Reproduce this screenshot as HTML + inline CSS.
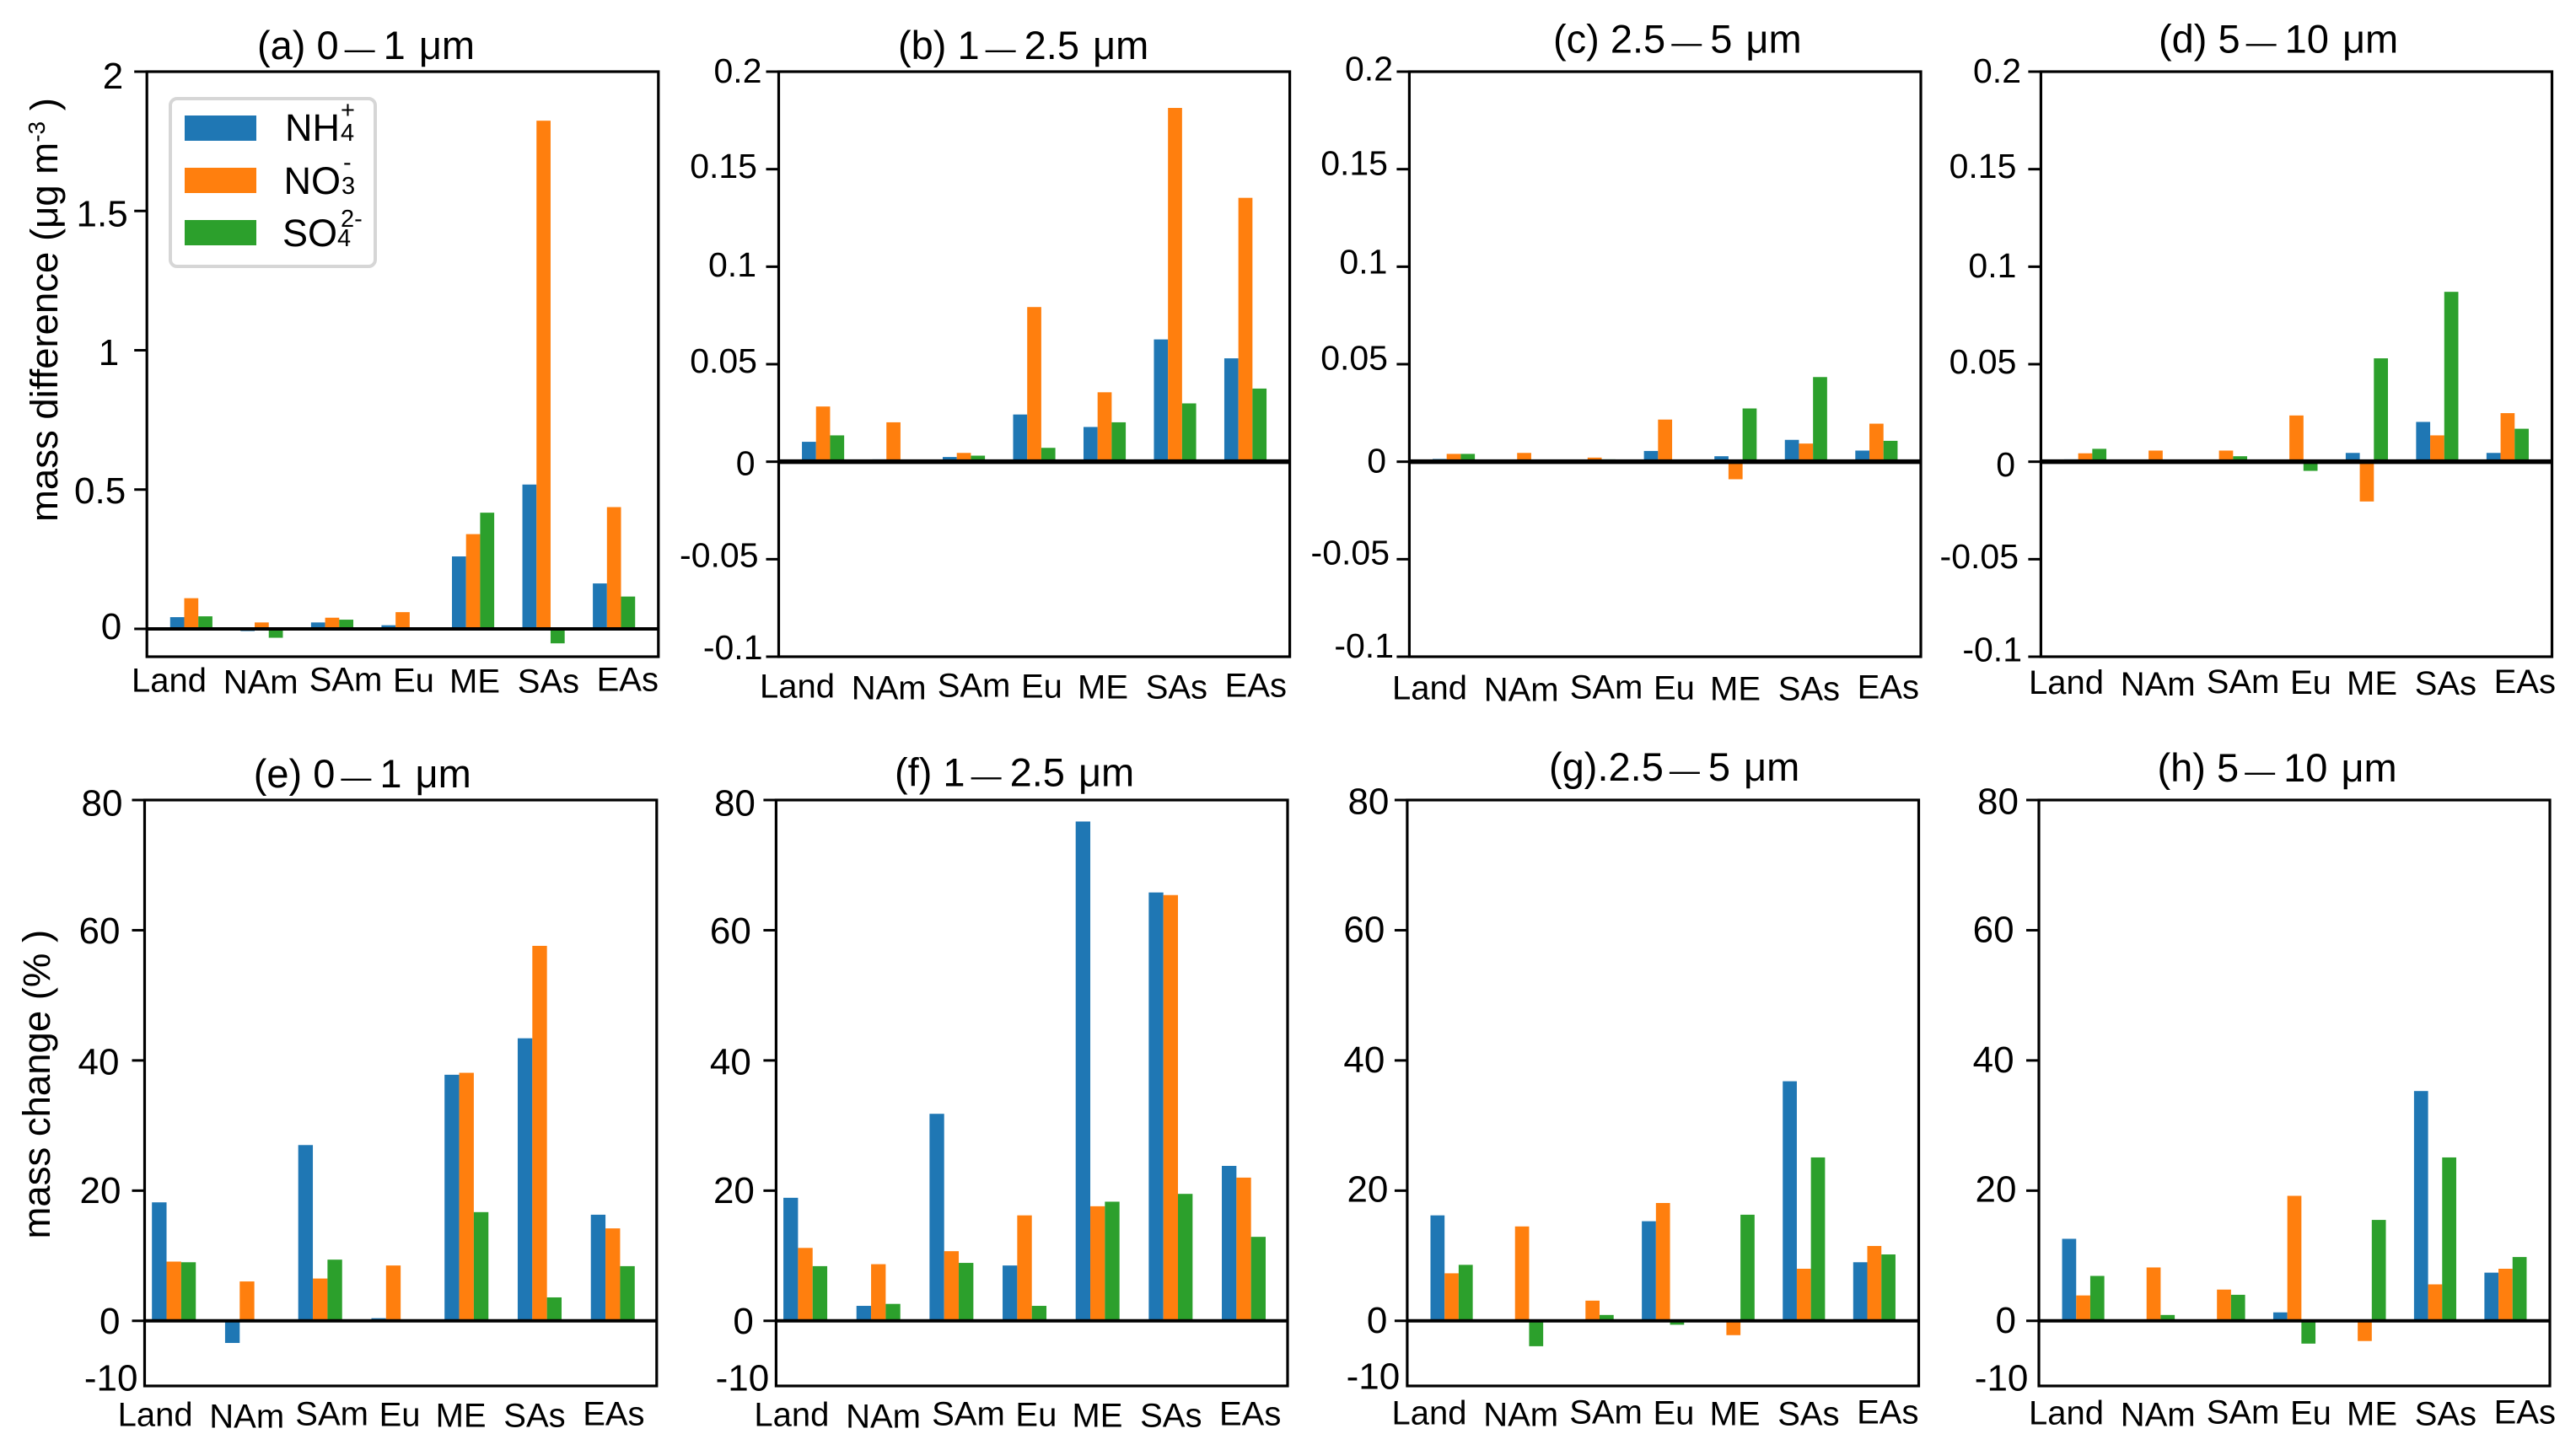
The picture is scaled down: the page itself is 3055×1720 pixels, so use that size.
<!DOCTYPE html>
<html lang="en">
<head>
<meta charset="utf-8">
<title>Aerosol mass difference and mass change by region</title>
<style>
html,body{margin:0;padding:0;background:#fff;}
svg{display:block;font-family:"Liberation Sans",Arial,sans-serif;fill:#000;}
</style>
</head>
<body>
<svg id="figure" xmlns="http://www.w3.org/2000/svg" width="3055" height="1720" viewBox="0 0 3055 1720">
  <rect x="0" y="0" width="3055" height="1720" fill="#ffffff"/>
  <text transform="translate(68,619) rotate(-90)" font-size="45.500">mass difference (μg m<tspan dy="-15" font-size="28">-3</tspan><tspan dy="15"> )</tspan></text>
  <text transform="translate(59,1469.5) rotate(-90)" font-size="45.500">mass change (% )</text>
  <g id="panels"></g>
  <g>
    <rect x="202" y="117" width="243" height="199" rx="8" ry="8" fill="#ffffff" stroke="#d6d6d6" stroke-width="4"/>
    <rect x="219" y="137" width="85" height="30" fill="#1f77b4"/>
    <rect x="219" y="199" width="85" height="30" fill="#ff7f0e"/>
    <rect x="219" y="261" width="85" height="30" fill="#2ca02c"/>
    <text font-size="45"><tspan x="338" y="167">NH</tspan><tspan x="404" y="167" font-size="29">4</tspan><tspan x="404" y="140" font-size="29">+</tspan></text>
    <text font-size="45"><tspan x="336.500" y="230">NO</tspan><tspan x="405" y="230" font-size="29">3</tspan><tspan x="407" y="202" font-size="29">-</tspan></text>
    <text font-size="45"><tspan x="335" y="292">SO</tspan><tspan x="400" y="292" font-size="29">4</tspan><tspan x="404" y="269" font-size="29">2-</tspan></text>
  </g>
</svg>
<script>
const categories = ['Land', 'NAm', 'SAm', 'Eu', 'ME', 'SAs', 'EAs'];
const speciesNames = ['nh4', 'no3', 'so4'];

const massDiffTicksA = ['2', '1.5', '1', '0.5', '0'];
const massDiffTicksFine = ['0.2', '0.15', '0.1', '0.05', '0', '-0.05', '-0.1'];
const massChangeTicks = ['80', '60', '40', '20', '0', '-10'];

const panelANH4 = [0.042, -0.008, 0.023, 0.013, 0.26, 0.518, 0.163];
const panelANO3 = [0.11, 0.023, 0.04, 0.06, 0.34, 1.824, 0.437];
const panelASO4 = [0.045, -0.032, 0.033, 0.005, 0.417, -0.052, 0.116];

const panelBNH4 = [0.0102, 0.0012, 0.0024, 0.0242, 0.0178, 0.0627, 0.053];
const panelBNO3 = [0.0283, 0.0202, 0.0045, 0.0793, 0.0356, 0.1814, 0.1353];
const panelBSO4 = [0.0135, 0, 0.0031, 0.0071, 0.0202, 0.0299, 0.0375];

const panelCNH4 = [0.0014, 0, 0, 0.0055, 0.0028, 0.0112, 0.0057];
const panelCNO3 = [0.004, 0.0045, 0.0021, 0.0216, -0.009, 0.0093, 0.0195];
const panelCSO4 = [0.004, 0, 0.0012, 0, 0.0273, 0.0434, 0.0107];

const panelDNH4 = [0.0012, 0, 0, 0.001, 0.0045, 0.0204, 0.0045];
const panelDNO3 = [0.0043, 0.0057, 0.0057, 0.0237, -0.0204, 0.0135, 0.0249];
const panelDSO4 = [0.0066, 0, 0.0028, -0.0047, 0.053, 0.0871, 0.0169];

const panelENH4 = [18.2, -3.4, 27, 0.4, 37.8, 43.4, 16.3];
const panelENO3 = [9.1, 6.05, 6.5, 8.5, 38.1, 57.6, 14.2];
const panelESO4 = [9, 0, 9.4, 0, 16.7, 3.6, 8.4];

const panelFNH4 = [18.9, 2.3, 31.8, 8.5, 76.7, 65.8, 23.8];
const panelFNO3 = [11.2, 8.7, 10.7, 16.2, 17.6, 65.4, 22];
const panelFSO4 = [8.4, 2.6, 8.9, 2.3, 18.3, 19.5, 12.9];

const panelGNH4 = [16.2, 0, 0, 15.3, 0, 36.8, 9];
const panelGNO3 = [7.3, 14.5, 3.1, 18.1, -2.2, 8, 11.5];
const panelGSO4 = [8.6, -3.9, 0.9, -0.6, 16.3, 25.1, 10.2];

const panelHNH4 = [12.6, 0, 0, 1.3, 0, 35.3, 7.4];
const panelHNO3 = [3.9, 8.2, 4.8, 19.2, -3.1, 5.6, 8];
const panelHSO4 = [6.9, 0.9, 4, -3.5, 15.5, 25.1, 9.8];

const SVG_NS = 'http://www.w3.org/2000/svg';
const COLORS = ['#1f77b4', '#ff7f0e', '#2ca02c'];
const BAR_WIDTH_UNITS = 0.2;
const XLABEL_DX = [0, 108.7, 210.7, 310, 377, 457.7, 551.6];
const XLABEL_DY = [0, 2, -1, 0, 1, 1, -1];

const TOP = {top: 85, bottom: 779};
const BOT = {top: 949, bottom: 1644};

const panels = [
  {id: 'a', head: '(a) 0', tail: '1 μm', tx: 305, ty: 70, left: 174.2, right: 780.8, row: TOP, yMin: -0.1, yMax: 2, xMin: -0.63, xMax: 6.63, tickFont: 44,
   ticks: massDiffTicksA, values: [panelANH4, panelANO3, panelASO4], zero: 4, hideLast: false,
   lx: 156, ly: 820.7, gap: [28, 22.5, 33, 25, 30], dy: [20, 18.5, 17.5, 16.5, 12]},
  {id: 'b', head: '(b) 1', tail: '2.5 μm', tx: 1065, ty: 70, left: 923.5, right: 1529.6, row: TOP, yMin: -0.1, yMax: 0.2, xMin: -0.63, xMax: 6.63, tickFont: 41,
   ticks: massDiffTicksFine, values: [panelBNH4, panelBNO3, panelBSO4], zero: 5.5, hideLast: false,
   lx: 901, ly: 827.3, gap: [20, 25.5, 26.5, 25.5, 28, 24, 19], dy: [13.2, 10.4, 11.6, 9.9, 16, 9.3, 2.8]},
  {id: 'c', head: '(c) 2.5', tail: '5 μm', tx: 1842, ty: 62.7, left: 1671.4, right: 2278, row: TOP, yMin: -0.1, yMax: 0.2, xMin: -0.63, xMax: 6.63, tickFont: 41,
   ticks: massDiffTicksFine, values: [panelCNH4, panelCNO3, panelCSO4], zero: 5.5, hideLast: false,
   lx: 1651, ly: 829.5, gap: [19.4, 25.4, 26, 25.4, 27.4, 23.4, 18.4], dy: [10.5, 7, 8.2, 6.6, 12.6, 6, 1]},
  {id: 'd', head: '(d) 5', tail: '10 μm', tx: 2560, ty: 62.7, left: 2420.4, right: 3026.5, row: TOP, yMin: -0.1, yMax: 0.2, xMin: -0.63, xMax: 6.63, tickFont: 41,
   ticks: massDiffTicksFine, values: [panelDNH4, panelDNO3, panelDSO4], zero: 5.5, hideLast: false,
   lx: 2406, ly: 823, gap: [23.4, 29, 29, 29, 30.4, 26.4, 22.4], dy: [13.2, 10.4, 12.6, 11, 17.5, 10.5, 5.6]},
  {id: 'e', head: '(e) 0', tail: '1 μm', tx: 300.7, ty: 934, left: 171.5, right: 778.8, row: BOT, yMin: -10, yMax: 80, xMin: -0.4, xMax: 6.6, tickFont: 44,
   ticks: massChangeTicks, values: [panelENH4, panelENO3, panelESO4], zero: 4, hideLast: true,
   lx: 139.6, ly: 1691.7, gap: [26, 29, 30, 28, 29, 8], dy: [18.7, 15.8, 16.5, 14.8, 15.4, 5.4]},
  {id: 'f', head: '(f) 1', tail: '2.5 μm', tx: 1061, ty: 932.6, left: 920.4, right: 1527, row: BOT, yMin: -10, yMax: 80, xMin: -0.4, xMax: 6.6, tickFont: 44,
   ticks: massChangeTicks, values: [panelFNH4, panelFNO3, panelFSO4], zero: 4, hideLast: true,
   lx: 894.4, ly: 1691.7, gap: [24.5, 29.6, 29.6, 25.5, 26.5, 8.2], dy: [18.7, 15.8, 16.5, 14.8, 15.4, 5.4]},
  {id: 'g', head: '(g).2.5', tail: '5 μm', tx: 1837, ty: 926, left: 1668.9, right: 2275.5, row: BOT, yMin: -10, yMax: 80, xMin: -0.63, xMax: 6.63, tickFont: 44,
   ticks: massChangeTicks, values: [panelGNH4, panelGNO3, panelGSO4], zero: 4, hideLast: true,
   lx: 1650.5, ly: 1689.5, gap: [21.5, 26.6, 26.6, 22.5, 23.5, 8.7], dy: [16.7, 14, 14, 13, 14, 3.5]},
  {id: 'h', head: '(h) 5', tail: '10 μm', tx: 2558.5, ty: 927, left: 2418, right: 3024, row: BOT, yMin: -10, yMax: 80, xMin: -0.63, xMax: 6.63, tickFont: 44,
   ticks: massChangeTicks, values: [panelHNH4, panelHNO3, panelHSO4], zero: 4, hideLast: true,
   lx: 2406, ly: 1689.5, gap: [24, 29.4, 29.4, 26.5, 27, 12.6], dy: [16.7, 14, 14, 13, 14, 5.4]}
];

function make(tag, attrs, parent) {
  const el = document.createElementNS(SVG_NS, tag);
  Object.keys(attrs).forEach(function (k) { el.setAttribute(k, attrs[k]); });
  parent.appendChild(el);
  return el;
}

const root = document.getElementById('panels');

panels.forEach(function (p) {
  const top = p.row.top;
  const bottom = p.row.bottom;
  const xScale = function (v) { return p.left + (v - p.xMin) / (p.xMax - p.xMin) * (p.right - p.left); };
  const yScale = function (v) { return bottom - (v - p.yMin) / (p.yMax - p.yMin) * (bottom - top); };

  const g = make('g', {}, root);
  
  

  p.values.forEach(function (series, s) {
    series.forEach(function (v, i) {
      const x0 = xScale(i + (s - 1.5) * BAR_WIDTH_UNITS);
      const x1 = xScale(i + (s - 0.5) * BAR_WIDTH_UNITS);
      const y0 = yScale(Math.max(v, 0));
      const y1 = yScale(Math.min(v, 0));
      const bar = make('rect', {x: x0, y: y0, width: x1 - x0, height: y1 - y0, fill: COLORS[s]}, g);
      
      
    });
  });

  const zeroLine = make('line', {x1: p.left, x2: p.right, y1: yScale(0), y2: yScale(0), stroke: '#000', 'stroke-width': p.zero}, g);
  
  

  const frame = make('rect', {x: p.left, y: top, width: p.right - p.left, height: bottom - top, fill: 'none', stroke: '#000', 'stroke-width': 3.2}, g);
  
  

  p.ticks.forEach(function (label, i) {
    const v = parseFloat(label);
    const y = yScale(v);
    if (!(p.hideLast && i === p.ticks.length - 1)) {
      const tick = make('line', {x1: p.left - 15, x2: p.left, y1: y, y2: y, stroke: '#000', 'stroke-width': 3}, g);
      
      
    }
    const text = make('text', {x: p.left - p.gap[i], y: y + p.dy[i], 'text-anchor': 'end', 'font-size': p.tickFont}, g);
    text.textContent = label;
    
    
  });

  categories.forEach(function (c, i) {
    const text = make('text', {x: p.lx + XLABEL_DX[i], y: p.ly + XLABEL_DY[i], 'font-size': 40}, g);
    text.textContent = c;
    
    
  });

  const title = make('text', {x: p.tx, y: p.ty, 'font-size': 47}, g);
  
  
  const head = make('tspan', {}, title);
  head.textContent = p.head;
  const dash = make('tspan', {dx: 7, 'font-size': 36}, title);
  dash.textContent = '—';
  const tail = make('tspan', {dx: 10, 'word-spacing': 3}, title);
  tail.textContent = p.tail;
});
</script>
</body>
</html>
